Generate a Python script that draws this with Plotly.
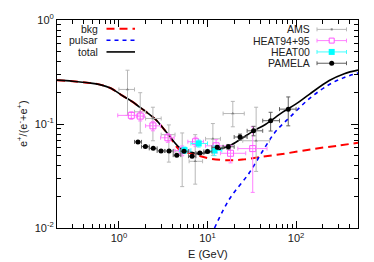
import plotly.graph_objects as go

# ---------------- model curves ----------------
E_total = [0.2, 0.3, 0.47, 0.61, 0.8, 1.11, 1.4, 1.72, 2.1, 2.64, 3.1, 3.73, 4.83, 6.27,
           8.1, 10, 13, 17.7, 24, 32.4, 45, 70.6, 100, 141, 237, 350, 500]
F_total = [0.264, 0.258, 0.248, 0.239, 0.222, 0.186, 0.165, 0.145, 0.128, 0.109, 0.093,
           0.0764, 0.0594, 0.0542, 0.0518, 0.0535, 0.0565, 0.0617, 0.072, 0.085, 0.099,
           0.130, 0.156, 0.193, 0.262, 0.305, 0.33]

E_bkg = [0.2, 0.3, 0.47, 0.61, 0.8, 1.11, 1.4, 1.72, 2.1, 2.64, 3.1, 3.73, 4.83, 6.3,
         7.8, 11, 18.5, 26, 38.6, 70, 154, 300, 500]
F_bkg = [0.264, 0.258, 0.248, 0.239, 0.222, 0.186, 0.165, 0.145, 0.128, 0.109, 0.093,
         0.0764, 0.0565, 0.0525, 0.0498, 0.0463, 0.0447, 0.0457, 0.048, 0.0515, 0.0574,
         0.062, 0.066]

E_psr = [12, 17.7, 29.7, 42, 59, 84, 141, 237, 350, 500]
F_psr = [0.010, 0.019, 0.034, 0.055, 0.085, 0.115, 0.175, 0.24, 0.28, 0.31]

# ---------------- data ----------------
# AMS
E_ams = [1.25, 1.74, 2.42, 3.66, 5.18, 7.27, 11.5, 19.3, 35.4]
E_ams_lo = [1.0, 1.5, 2.0, 3.0, 4.3, 6.2, 9.5, 15.0, 25.0]
E_ams_hi = [1.5, 2.0, 3.0, 4.3, 6.2, 8.8, 14.0, 26.0, 50.0]
F_ams = [0.215, 0.131, 0.113, 0.079, 0.055, 0.0438, 0.072, 0.126, 0.069]
F_ams_hi = [0.329, 0.200, 0.145, 0.098, 0.082, 0.079, 0.101, 0.165, 0.145]
F_ams_lo = [0.121, 0.082, 0.069, 0.043, 0.025, 0.0264, 0.050, 0.094, 0.035]

# HEAT94+95
E_h94 = [1.38, 1.74, 2.42, 3.57, 5.18, 7.33, 12.5, 18.2, 32.4]
E_h94_lo = [0.97, 1.57, 2.0, 2.95, 4.2, 6.0, 9.5, 14.0, 22.0]
E_h94_hi = [1.64, 1.95, 2.95, 4.2, 6.3, 9.0, 17.0, 27.0, 47.0]
F_h94 = [0.121, 0.119, 0.096, 0.0737, 0.0555, 0.0676, 0.0617, 0.0523, 0.058]
F_h94_err = [0.010, 0.012, 0.010, 0.007, 0.006, 0.007, 0.009, 0.010, 0.036]

# HEAT00
E_h00 = [5.5, 7.96, 12.0]
E_h00_lo = [4.85, 6.5, 10.0]
E_h00_hi = [6.5, 10.0, 14.5]
F_h00 = [0.056, 0.065, 0.0556]
F_h00_err = [0.004, 0.005, 0.006]

# PAMELA
E_pam = [1.64, 1.99, 2.44, 2.99, 3.68, 4.50, 5.43, 6.69, 8.20, 10.0, 12.9, 17.2, 23.3, 33.1, 51.6, 81.6]
E_pam_lo = [1.5, 1.8, 2.2, 2.7, 3.3, 4.1, 5.0, 6.1, 7.4, 9.1, 11.2, 15, 20, 28, 42, 65]
E_pam_hi = [1.8, 2.2, 2.7, 3.3, 4.1, 5.0, 6.1, 7.4, 9.1, 11.2, 15, 20, 28, 42, 65, 100]
F_pam = [0.0673, 0.0607, 0.0583, 0.0551, 0.0550, 0.0502, 0.0548, 0.0490, 0.0525, 0.0545,
         0.0597, 0.0604, 0.0750, 0.0860, 0.1076, 0.139]
F_pam_err = [0.0014, 0.0012, 0.0011, 0.0011, 0.0011, 0.0011, 0.0012, 0.0013, 0.0014, 0.0017,
             0.0019, 0.0031, 0.005, 0.009, 0.022, 0.043]

x_ticks = [1, 10, 100]
x_ticktext = ["10<sup>0</sup>", "10<sup>1</sup>", "10<sup>2</sup>"]
y_ticks = [0.01, 0.1, 1]
y_ticktext = ["10<sup>-2</sup>", "10<sup>-1</sup>", "10<sup>0</sup>"]

FONT = "Liberation Sans, Arial, sans-serif"

fig = go.Figure()

fig.add_trace(go.Scatter(x=E_bkg, y=F_bkg, mode="lines", line=dict(color="#ff0000", width=2, dash="8px,5px", shape="spline"), showlegend=False))
fig.add_trace(go.Scatter(x=E_psr, y=F_psr, mode="lines", line=dict(color="#0000ff", width=1.6, dash="4px,4px", shape="spline"), showlegend=False))
fig.add_trace(go.Scatter(x=E_total, y=F_total, mode="lines", line=dict(color="#000000", width=1.6, shape="spline"), showlegend=False))


def errs(c, lo, hi):
    return [h - v for v, h in zip(c, hi)], [v - l for v, l in zip(c, lo)]


xp, xm = errs(E_ams, E_ams_lo, E_ams_hi)
yp, ym = errs(F_ams, F_ams_lo, F_ams_hi)
fig.add_trace(go.Scatter(x=E_ams, y=F_ams, mode="markers",
                         marker=dict(symbol="triangle-up", size=3, color="#808080"),
                         error_x=dict(type="data", array=xp, arrayminus=xm, color="#b8b8b8", thickness=1, width=2),
                         error_y=dict(type="data", array=yp, arrayminus=ym, color="#b8b8b8", thickness=1, width=2),
                         showlegend=False))

xp, xm = errs(E_h94, E_h94_lo, E_h94_hi)
fig.add_trace(go.Scatter(x=E_h94, y=F_h94, mode="markers",
                         marker=dict(symbol="square-open", size=6, color="#ff55ff", line=dict(width=1)),
                         error_x=dict(type="data", array=xp, arrayminus=xm, color="#ff80ff", thickness=1, width=2),
                         error_y=dict(type="data", array=F_h94_err, color="#ff80ff", thickness=1, width=2),
                         showlegend=False))

xp, xm = errs(E_h00, E_h00_lo, E_h00_hi)
fig.add_trace(go.Scatter(x=E_h00, y=F_h00, mode="markers",
                         marker=dict(symbol="square", size=6, color="#00ffff"),
                         error_x=dict(type="data", array=xp, arrayminus=xm, color="#40ffff", thickness=1, width=2),
                         error_y=dict(type="data", array=F_h00_err, color="#40ffff", thickness=1, width=2),
                         showlegend=False))

xp, xm = errs(E_pam, E_pam_lo, E_pam_hi)
fig.add_trace(go.Scatter(x=E_pam, y=F_pam, mode="markers",
                         marker=dict(symbol="circle", size=5, color="#000000"),
                         error_x=dict(type="data", array=xp, arrayminus=xm, color="#606060", thickness=1, width=2),
                         error_y=dict(type="data", array=F_pam_err, color="#606060", thickness=1, width=2),
                         showlegend=False))

# ---------------- legends (drawn in paper coordinates) ----------------
L, R, T, B = 57, 358, 13, 228
W, H = R - L, B - T


def px(x):
    return (x - L) / W


def py(y):
    return (B - y) / H


annotations = []
shapes = []

left_items = [("bkg", 22, dict(color="#ff0000", width=2, dash="8px,5px")),
              ("pulsar", 34, dict(color="#0000ff", width=1.6, dash="4px,4px")),
              ("total", 46, dict(color="#000000", width=1.6))]
for name, yy, ln in left_items:
    annotations.append(dict(x=px(100), y=py(yy), xref="paper", yref="paper", text=name,
                            showarrow=False, xanchor="right", yanchor="middle",
                            font=dict(family=FONT, size=10.5, color="#202020")))
    shapes.append(dict(type="line", xref="paper", yref="paper", x0=px(106.5), x1=px(135),
                       y0=py(yy), y1=py(yy), line=ln))

right_items = [("AMS", 22.7, "#b8b8b8", "tri", "#808080"),
               ("HEAT94+95", 34.3, "#ff80ff", "osq", "#ff55ff"),
               ("HEAT00", 46, "#40ffff", "sq", "#00ffff"),
               ("PAMELA", 57.7, "#606060", "circ", "#000000")]
for name, yy, lc, mk, mc in right_items:
    annotations.append(dict(x=px(311.7), y=py(yy), xref="paper", yref="paper", text=name,
                            showarrow=False, xanchor="right", yanchor="middle",
                            font=dict(family=FONT, size=10.5, color="#202020")))
    shapes.append(dict(type="line", xref="paper", yref="paper", x0=px(317), x1=px(346.5),
                       y0=py(yy), y1=py(yy), line=dict(color=lc, width=1)))
    for xe in (317, 346.5):
        shapes.append(dict(type="line", xref="paper", yref="paper", x0=px(xe), x1=px(xe),
                           y0=py(yy - 2), y1=py(yy + 2), line=dict(color=lc, width=1)))
    xc, yc = px(331.7), py(yy)
    if mk == "tri":
        shapes.append(dict(type="rect", xref="paper", yref="paper", xsizemode="pixel", ysizemode="pixel",
                           xanchor=xc, yanchor=yc, x0=-1, x1=1, y0=-1, y1=1,
                           fillcolor=mc, line=dict(width=0)))
    elif mk == "osq":
        shapes.append(dict(type="rect", xref="paper", yref="paper", xsizemode="pixel", ysizemode="pixel",
                           xanchor=xc, yanchor=yc, x0=-2.5, x1=2.5, y0=-2.5, y1=2.5,
                           fillcolor="white", line=dict(color=mc, width=1)))
    elif mk == "sq":
        shapes.append(dict(type="rect", xref="paper", yref="paper", xsizemode="pixel", ysizemode="pixel",
                           xanchor=xc, yanchor=yc, x0=-3, x1=3, y0=-3, y1=3,
                           fillcolor=mc, line=dict(width=0)))
    else:
        shapes.append(dict(type="circle", xref="paper", yref="paper", xsizemode="pixel", ysizemode="pixel",
                           xanchor=xc, yanchor=yc, x0=-2.5, x1=2.5, y0=-2.5, y1=2.5,
                           fillcolor=mc, line=dict(width=0)))

# axis titles
annotations.append(dict(x=0.5, y=py(255), xref="paper", yref="paper", text="E (GeV)", showarrow=False,
                        xanchor="center", yanchor="middle", font=dict(family=FONT, size=11, color="#202020")))
annotations.append(dict(x=px(22), y=0.5, xref="paper", yref="paper",
                        text="e<sup>+</sup>/(e<sup>-</sup>+e<sup>+</sup>)", showarrow=False, textangle=-90,
                        xanchor="center", yanchor="middle", font=dict(family=FONT, size=11, color="#202020")))

minor_x = [m * 10 ** d for d in range(-1, 3) for m in range(2, 10) if 0.2 <= m * 10 ** d <= 500]
minor_y = [m * 10 ** d for d in range(-2, 0) for m in range(2, 10)]

axis_common = dict(type="log", showline=True, linecolor="#000000", linewidth=1, mirror="allticks",
                   ticks="inside", ticklen=7, tickcolor="#000000", tickwidth=1, showgrid=False,
                   zeroline=False, tickfont=dict(family=FONT, size=11, color="#202020"))

fig.update_layout(
    width=374, height=262,
    margin=dict(l=L, r=374 - R, t=T, b=262 - B),
    plot_bgcolor="white", paper_bgcolor="white",
    xaxis=dict(range=[-0.69897, 2.69897], tickvals=x_ticks, ticktext=x_ticktext,
               minor=dict(tickvals=minor_x, ticks="inside", ticklen=4, tickcolor="#000000", showgrid=False),
               **axis_common),
    yaxis=dict(range=[-2, 0], tickvals=y_ticks, ticktext=y_ticktext,
               minor=dict(tickvals=minor_y, ticks="inside", ticklen=4, tickcolor="#000000", showgrid=False),
               **axis_common),
    annotations=annotations,
    shapes=shapes,
    showlegend=False,
)

fig.write_html("out.html",
               config={"displayModeBar": False},
               post_script="document.body.style.margin='0';document.body.style.overflow='hidden';")
